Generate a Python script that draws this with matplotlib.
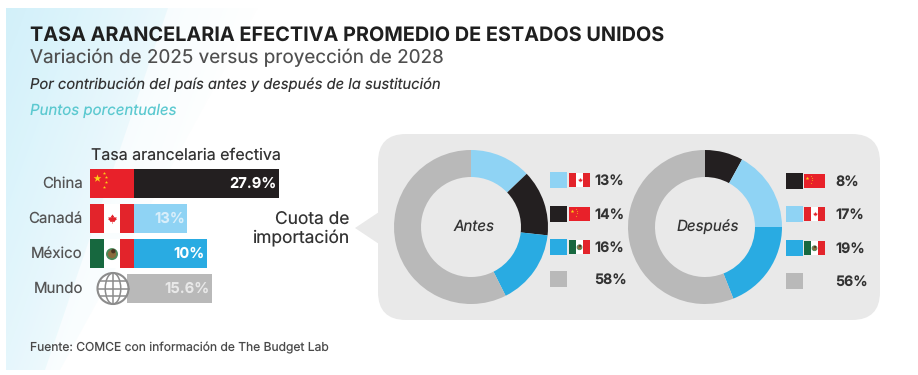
import matplotlib
matplotlib.use("Agg")
import matplotlib.pyplot as plt
from matplotlib.patches import Rectangle, Circle, Ellipse, Polygon, FancyBboxPatch
from matplotlib.path import Path
import numpy as np

plt.rcParams['font.family'] = ['Inter', 'DejaVu Sans']
plt.rcParams['text.hinting'] = 'no_hinting'
plt.rcParams['text.hinting_factor'] = 1

W, H = 918, 375

# data
countries = ["China", "Canadá", "México", "Mundo"]
bar_lengths = [27.9, 10.2, 14.0, 15.0]  # as drawn in the picture, not the same as the labels
bar_labels = ["27.9%", "13%", "10%", "15.6%"]
bar_text = ["white", "#d8eefa", "white", "#e8e8e8"]

BLACK = "#231f20"
LIGHT = "#8fd3f4"
BLUE = "#29abe2"
GRAY = "#b9b9b9"
bar_colors = [BLACK, LIGHT, BLUE, GRAY]

antes_vals = [13, 14, 16, 58]
antes_labels = ["13%", "14%", "16%", "58%"]
antes_colors = [LIGHT, BLACK, BLUE, GRAY]
antes_flags = ["ca", "cn", "mx", None]

despues_vals = [8, 17, 19, 56]
despues_labels = ["8%", "17%", "19%", "56%"]
despues_colors = [BLACK, LIGHT, BLUE, GRAY]
despues_flags = ["cn", "ca", "mx", None]

fig = plt.figure(figsize=(W / 100, H / 100), dpi=100, facecolor="white")

# pixel canvas, y goes down like in the picture
bg = fig.add_axes([0, 0, 1, 1])
bg.axis("off")


def px_axes(x0, y0, x1, y1):
    ax = fig.add_axes([x0 / W, 1 - y1 / H, (x1 - x0) / W, (y1 - y0) / H])
    ax.axis("off")
    ax.patch.set_alpha(0)
    return ax


def fade_band(pts, alpha_max):
    # pale diagonal shape in the background, fades to the right and down
    xx, yy = np.meshgrid(np.linspace(0, 1, 200), np.linspace(0, 1, 100))
    img = np.zeros((100, 200, 4))
    img[..., 0], img[..., 1], img[..., 2] = (0.72, 0.91, 0.97)
    img[..., 3] = alpha_max * np.clip(1.0 - xx * 1.1 - yy * 0.5, 0, 1)
    im = bg.imshow(img, extent=(0, 300, H, 0), aspect="auto", zorder=0)
    im.set_clip_path(Polygon(pts, transform=bg.transData))


fade_band([(6, 8), (168, 8), (45, 370), (6, 370)], 0.5)
fade_band([(6, 8), (258, 8), (60, 370), (6, 370)], 0.28)
bg.set_xlim(0, W)
bg.set_ylim(H, 0)

# titles
bg.text(30, 36, "TASA ARANCELARIA EFECTIVA PROMEDIO DE ESTADOS UNIDOS", fontsize=14.3,
        fontweight="bold", color="#1f1f1f", va="center")
bg.text(30, 58, "Variación de 2025 versus proyección de 2028", fontsize=13.6, color="#4f4f4f", va="center")
bg.text(30, 85, "Por contribución del país antes y después de la sustitución", fontsize=10.6,
        style="italic", color="#333333", va="center")
bg.text(30, 111, "Puntos porcentuales", fontsize=10.8, style="italic", color="#5cc9d0", va="center")
bg.text(30, 348, "Fuente: COMCE con información de The Budget Lab", fontsize=8.7, color="#4a4a4a", va="center")

# grey panel with the pointer
panel = FancyBboxPatch((378 + 28, 134 + 28), 502 - 56, 186 - 56, boxstyle="round,pad=28,rounding_size=28",
                       fc="#e9e9e9", ec="none", zorder=1)
bg.add_patch(panel)
bg.add_patch(Polygon([(379, 212), (355, 228), (379, 244)], fc="#e9e9e9", ec="none", zorder=1))

# rough maple leaf for the Canadian flags
LEAF = Path([(0, 1), (0.18, 0.68), (0.3, 0.74), (0.24, 0.28), (0.46, 0.52), (0.52, 0.38), (0.82, 0.44),
             (0.72, 0.12), (0.86, 0.04), (0.42, -0.32), (0.48, -0.5), (0.04, -0.44), (0.05, -0.85),
             (-0.05, -0.85), (-0.04, -0.44), (-0.48, -0.5), (-0.42, -0.32), (-0.86, 0.04), (-0.72, 0.12),
             (-0.82, 0.44), (-0.52, 0.38), (-0.46, 0.52), (-0.24, 0.28), (-0.3, 0.74), (-0.18, 0.68),
             (0, 1)], closed=True)


def rect(x, y, w, h, c, z=3):
    bg.add_patch(Rectangle((x, y), w, h, fc=c, ec="none", zorder=z))


def flag(kind, x, y, w, h, z=3):
    if kind == "cn":
        rect(x, y, w, h, "#e8212a", z)
        bg.scatter([x + w * 0.155], [y + h * 0.3], marker="*", s=0.018 * w * w, c="#fbd116", linewidths=0, zorder=z + 1)
        for dx, dy in [(0.31, 0.13), (0.37, 0.28), (0.37, 0.45), (0.31, 0.62)]:
            bg.scatter([x + w * dx], [y + h * dy], marker="*", s=0.003 * w * w, c="#fbd116", linewidths=0, zorder=z + 1)
    elif kind == "ca":
        rect(x, y, w, h, "white", z)
        rect(x, y, w * 0.32, h, "#e3242b", z)
        rect(x + w * 0.68, y, w * 0.32, h, "#e3242b", z)
        bg.scatter([x + w / 2], [y + h * 0.52], marker=LEAF, s=0.028 * w * w, c="#e3242b", linewidths=0, zorder=z + 1)
    elif kind == "mx":
        rect(x, y, w, h, "white", z)
        rect(x, y, w * 0.32, h, "#17683f", z)
        rect(x + w * 0.68, y, w * 0.32, h, "#e3242b", z)
        bg.add_patch(Circle((x + w / 2, y + h * 0.52), w * 0.115, fc="#8a6b3c", ec="#4d8a5a", lw=w * 0.03, zorder=z + 1))
        bg.add_patch(Circle((x + w * 0.53, y + h * 0.42), w * 0.05, fc="#4a3320", ec="none", zorder=z + 2))


# bars, x scale is about 5.2 px per unit from x=134
bar_ax = px_axes(134, 166, 134 + 5.2 * 30, 306)
y_pos = np.arange(len(countries))
bar_ax.barh(y_pos, bar_lengths, height=0.83, color=bar_colors)
bar_ax.set_xlim(0, 30)
bar_ax.set_ylim(3.5, -0.5)
for i, lab in enumerate(bar_labels):
    bar_ax.text(bar_lengths[i] - 0.45, i, lab, ha="right", va="center", fontsize=10.6, fontweight="bold",
                color=bar_text[i])

bar_tops = [169, 204, 239, 274]
for name, top in zip(countries, bar_tops):
    bg.text(83, top + 14.5, name, ha="right", va="center", fontsize=10.8, color="#555555")
flag("cn", 90, 169, 44, 29)
flag("ca", 90, 204, 44, 29)
flag("mx", 90, 239, 44, 29)
rect(127, 274, 8, 29, GRAY, 2)

# globe
gx, gy, gr = 113, 288.5, 15.5
gc = "#8c8c8c"
bg.add_patch(Circle((gx, gy), gr, fc="white", ec=gc, lw=1.5, zorder=6))
bg.add_patch(Ellipse((gx, gy), gr, 2 * gr, fc="none", ec=gc, lw=1.1, zorder=6))
bg.plot([gx, gx], [gy - gr, gy + gr], color=gc, lw=1.1, zorder=6)
bg.plot([gx - gr, gx + gr], [gy, gy], color=gc, lw=1.1, zorder=6)
bg.plot([gx - gr * 0.85, gx + gr * 0.85], [gy - gr * 0.5] * 2, color=gc, lw=1.1, zorder=6)
bg.plot([gx - gr * 0.85, gx + gr * 0.85], [gy + gr * 0.5] * 2, color=gc, lw=1.1, zorder=6)

bg.text(185.5, 155, "Tasa arancelaria efectiva", ha="center", va="center", fontsize=11.5, color="#333333")
bg.text(349, 219.5, "Cuota de", ha="right", va="center", fontsize=12.5, color="#333333")
bg.text(349, 238, "importación", ha="right", va="center", fontsize=12.5, color="#333333")


# donuts
def donut(cx, cy, vals, colors, title):
    r = 77
    ax = px_axes(cx - r - 1, cy - r - 1, cx + r + 1, cy + r + 1)
    ax.pie(vals, colors=colors, startangle=90, counterclock=False, radius=1,
           wedgeprops=dict(width=27 / 77, linewidth=0))
    ax.set_xlim(-78 / 77, 78 / 77)
    ax.set_ylim(-78 / 77, 78 / 77)
    ax.text(0.04, 0, title, ha="center", va="center", style="italic", fontsize=10.9, color="#333333")


donut(471, 227, antes_vals, antes_colors, "Antes")
donut(705, 227, despues_vals, despues_colors, "Después")


def legend(x_sq, x_flag, x_lab, rows, colors, flags, labels):
    for y, c, f, lab in zip(rows, colors, flags, labels):
        rect(x_sq, y - 8, 17, 16, c)
        if f:
            flag(f, x_flag, y - 7, 21, 14)
        bg.text(x_lab, y + 1, lab, va="center", fontsize=10.2, fontweight="bold", color="#333333")


legend(550, 569, 594, [180, 214, 247, 279], antes_colors, antes_flags, antes_labels)
legend(786, 804, 835, [181, 214, 248, 281], despues_colors, despues_flags, despues_labels)

fig.savefig("out.png", dpi=100)
